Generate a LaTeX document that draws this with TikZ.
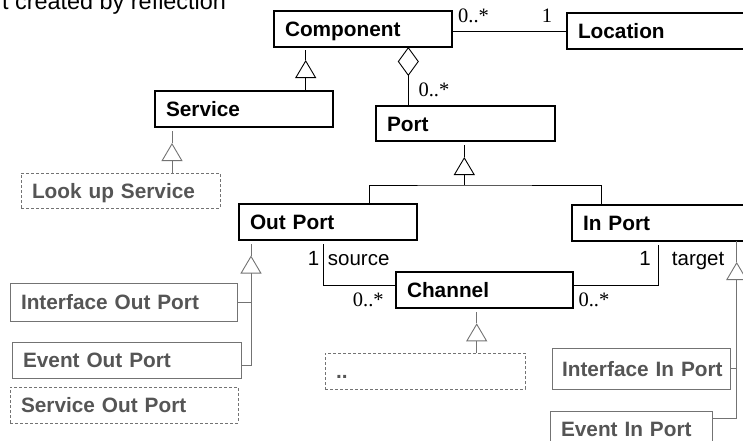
\documentclass[tikz,border=0pt]{standalone}
\usepackage{fontspec}
\setmainfont{Liberation Serif}
\setsansfont{Liberation Sans}
\usetikzlibrary{arrows.meta}
\definecolor{gtext}{RGB}{85,85,85}
\definecolor{gline}{RGB}{115,115,115}
\begin{document}
\begin{tikzpicture}[x=1pt,y=-1pt,
  umlbox/.style={draw=black, line width=1.1pt, rectangle, anchor=north west,
    inner xsep=11pt, inner ysep=0pt, outer sep=0pt, align=left,
    font=\sffamily\bfseries\fontsize{20.8}{24}\selectfont,
    text height=15pt, text depth=0pt},
  graybox/.style={umlbox, draw=gline, text=gtext, line width=1pt},
  dashbox/.style={graybox, dash pattern=on 3pt off 2pt},
  conn/.style={line width=0.9pt},
  gconn/.style={conn, draw=gline},
  gen/.style={-{Triangle[open, length=18pt, width=21pt, line width=0.9pt]}},
  agg/.style={-{Diamond[open, length=29pt, width=21pt, line width=0.9pt]}},
  mult/.style={font=\fontsize{20.5}{24}\selectfont, inner sep=0pt, anchor=base west},
  role/.style={font=\sffamily\fontsize{20.5}{24}\selectfont, inner sep=0pt},
]
\useasboundingbox (0,0) rectangle (743,440);
\clip (0,0) rectangle (743,440);

% title fragment
\node[font=\sffamily\fontsize{23.4}{28}\selectfont, anchor=base west, inner sep=0pt] (title) at (2,9.5) {t created by reflection};

% boxes
\node[umlbox, text width=156pt, minimum height=36pt] (comp) at (274,11) {Component};
\node[umlbox, text width=168pt, minimum height=36pt] (loc) at (567,13) {Location};
\node[umlbox, text width=156pt, minimum height=36pt] (serv) at (155,91) {Service};
\node[umlbox, text width=157pt, minimum height=35pt] (port) at (376,106) {Port};
\node[dashbox, text width=177pt, minimum height=35pt] (look) at (21,173) {Look up Service};
\node[umlbox, text width=156pt, minimum height=36pt] (outp) at (239,204) {Out Port};
\node[umlbox, text width=168pt, minimum height=36pt] (inp) at (572,205) {In Port};
\node[umlbox, text width=155pt, minimum height=36pt] (chan) at (396,272) {Channel};
\node[graybox, text width=205pt, minimum height=38pt] (ifo) at (10,283) {Interface Out Port};
\node[graybox, text width=207pt, minimum height=36pt] (evo) at (12,342) {Event Out Port};
\node[dashbox, text width=206pt, minimum height=36pt] (svo) at (10,387) {Service Out Port};
\node[dashbox, text width=178pt, minimum height=36pt] (dots) at (325,353) {..};
\node[graybox, text width=158pt, inner xsep=10pt, minimum height=41pt] (ifi) at (552,348) {\mbox{Interface In Port}};
\node[graybox, text width=140pt, minimum height=36pt] (evi) at (550,411) {Event In Port};

% Component -- Location
\draw[conn] (loc.west) -- (loc.west -| comp.east);
\node[mult] (m1) at (458,22.5) {0..*};
\node[mult] (m2) at (541.7,22.5) {1};

% aggregation Port -> Component
\coordinate (aggx) at (408.3,0);
\draw[conn, agg] (port.north -| aggx) -- (comp.south -| aggx);
\node[mult] (m3) at (418.3,96) {0..*};

% Service -> Component
\coordinate (g1) at (305.7,60);
\draw[conn, gen] (serv.north -| g1) -- (g1);
\draw[conn, shorten >=3pt] (g1) -- (comp.south -| g1);

% Look up Service -> Service
\coordinate (g2) at (172,143);
\draw[gconn, gen] (look.north -| g2) -- (g2);
\draw[gconn, shorten >=4pt] (g2) -- (serv.south -| g2);

% Out/In Port -> Port
\coordinate (g3) at (464.3,157);
\coordinate (j3) at (464.3,185);
\coordinate (xo) at (369.3,0);
\coordinate (xi) at (601,0);
\draw[conn, gen] (j3) -- (g3);
\draw[conn, shorten >=4pt] (g3) -- (port.south -| g3);
\draw[conn] (outp.north -| xo) |- (j3) -| (inp.north -| xi);

% Interface/Event Out Port -> Out Port
\coordinate (g4) at (251,255.5);
\coordinate (g4b) at (251,365);
\draw[gconn, gen] (evo.east |- g4b) -| (g4);
\draw[gconn, shorten >=4pt] (g4) -- (outp.south -| g4);
\draw[gconn] (ifo.east) -- (ifo.east -| g4);

% .. -> Channel
\coordinate (g5) at (476.7,323.3);
\draw[gconn, gen] (dots.north -| g5) -- (g5);
\draw[gconn, shorten >=4pt] (g5) -- (chan.south -| g5);

% Interface/Event In Port -> In Port
\coordinate (g6) at (736.7,262);
\coordinate (g6b) at (736.7,418.3);
\draw[gconn, gen] (evi.east |- g6b) -| (g6);
\draw[gconn] (g6) -- (inp.south -| g6);
\draw[gconn] (ifi.east) -- (ifi.east -| g6);

% source association
\coordinate (src) at (323.3,285.7);
\draw[conn, shorten <=4pt] (outp.south -| src) |- (chan.west |- src);
\node[role, anchor=base east] (r1) at (319.5,265) {1};
\node[role, anchor=base west] (r2) at (327.7,265) {source};
\node[mult] (m4) at (352.7,306.7) {0..*};

% target association
\coordinate (tgt) at (658.3,285.7);
\draw[conn, shorten <=4pt] (inp.south -| tgt) |- (chan.east |- tgt);
\node[role, anchor=base east] (r3) at (651,265.5) {1};
\node[role, anchor=base west] (r4) at (671.7,265.5) {target};
\node[mult] (m5) at (578.3,306.7) {0..*};
\end{tikzpicture}
\end{document}
